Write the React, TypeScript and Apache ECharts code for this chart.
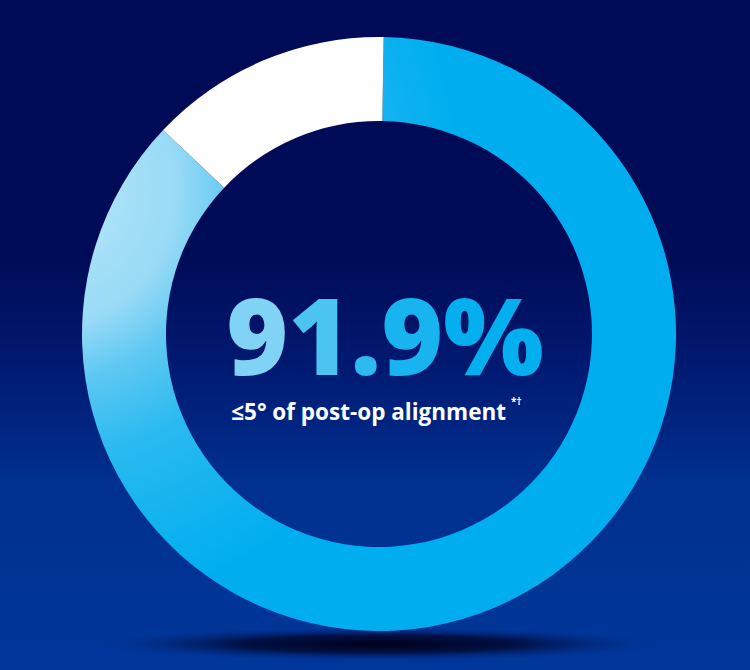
import React, { useEffect, useRef } from "react";
import * as echarts from "echarts";

const sliceNames: string[] = ["≤5° of post-op alignment", "Other"];
const sliceValues: number[] = [86.8, 13.2];
const headlineChars: string[] = ["9", "1", ".", "9", "%"];
const headlineColors: string[] = ["#80d3f5", "#4cc4f2", "#2dbaf0", "#18b4f0", "#03afef"];
const subtitle: string = "≤5° of post-op alignment";
const footnoteMarks: string = "*†";

export default function App() {
  const ref = useRef<HTMLDivElement | null>(null);

  useEffect(() => {
    if (!ref.current) return;
    const chart = echarts.init(ref.current, undefined, { renderer: "svg" });
    const cx = 379;
    const cy = 334;

    const ringGradient = {
      type: "radial",
      x: 40,
      y: 190,
      r: 420,
      global: true,
      colorStops: [
        { offset: 0, color: "#bde8f9" },
        { offset: 0.33, color: "#98daf6" },
        { offset: 0.46, color: "#5ec8f2" },
        { offset: 0.64, color: "#2abaf0" },
        { offset: 0.86, color: "#10b2ef" },
        { offset: 1, color: "#00aeef" },
      ],
    };

    const sliceColors = [ringGradient, "#ffffff"];

    const rich: any = {};
    headlineChars.forEach((_, i) => {
      rich["h" + i] = {
        fontFamily: "Open Sans",
        fontWeight: 800,
        fontSize: 106,
        lineHeight: 96,
        fill: headlineColors[i],
      };
    });
    const headlineText = headlineChars.map((c, i) => "{h" + i + "|" + c + "}").join("");

    const option: any = {
      animation: false,
      backgroundColor: "#000b57",
      graphic: [
        {
          type: "rect",
          z: -10,
          silent: true,
          shape: { x: 0, y: 0, width: 750, height: 670 },
          style: {
            fill: {
              type: "linear",
              x: 0,
              y: 0,
              x2: 0,
              y2: 1,
              colorStops: [
                { offset: 0, color: "#000b57" },
                { offset: 0.38, color: "#000b57" },
                { offset: 0.55, color: "#001a72" },
                { offset: 0.72, color: "#003090" },
                { offset: 1, color: "#00379a" },
              ],
            },
          },
        },
        {
          type: "ellipse",
          z: -5,
          silent: true,
          shape: { cx: cx, cy: 644, rx: 280, ry: 17 },
          style: {
            fill: {
              type: "radial",
              x: 0.5,
              y: 0.5,
              r: 0.5,
              colorStops: [
                { offset: 0, color: "rgba(0,0,25,1)" },
                { offset: 0.5, color: "rgba(0,4,40,0.75)" },
                { offset: 1, color: "rgba(0,40,130,0)" },
              ],
            },
          },
        },
        {
          type: "text",
          z: 10,
          silent: true,
          x: 385,
          y: 334,
          style: {
            text: headlineText,
            textAlign: "center",
            textVerticalAlign: "middle",
            rich: rich,
          },
        },
        {
          type: "text",
          z: 10,
          silent: true,
          x: 506,
          y: 411,
          style: {
            text: subtitle,
            fontFamily: "Open Sans",
            fontWeight: 700,
            fontSize: 22.5,
            fill: "#ffffff",
            textAlign: "right",
            textVerticalAlign: "middle",
          },
        },
        {
          type: "text",
          z: 10,
          silent: true,
          x: 511,
          y: 401,
          style: {
            text: footnoteMarks,
            fontFamily: "Open Sans",
            fontWeight: 700,
            fontSize: 10,
            fill: "#ffffff",
            textAlign: "left",
            textVerticalAlign: "middle",
          },
        },
      ],
      series: [
        {
          type: "pie",
          center: [cx, cy],
          radius: [213, 297],
          startAngle: 89.1,
          clockwise: true,
          silent: true,
          avoidLabelOverlap: false,
          label: { show: false },
          labelLine: { show: false },
          emphasis: { disabled: true },
          itemStyle: { borderWidth: 0 },
          data: sliceNames.map((name, i) => ({
            name,
            value: sliceValues[i],
            itemStyle: { color: sliceColors[i] },
          })),
        },
      ],
    };

    chart.setOption(option);
    return () => chart.dispose();
  }, []);

  return (
    <div
      ref={ref}
      style={{ position: "fixed", left: 0, top: 0, width: 750, height: 670 }}
    />
  );
}
